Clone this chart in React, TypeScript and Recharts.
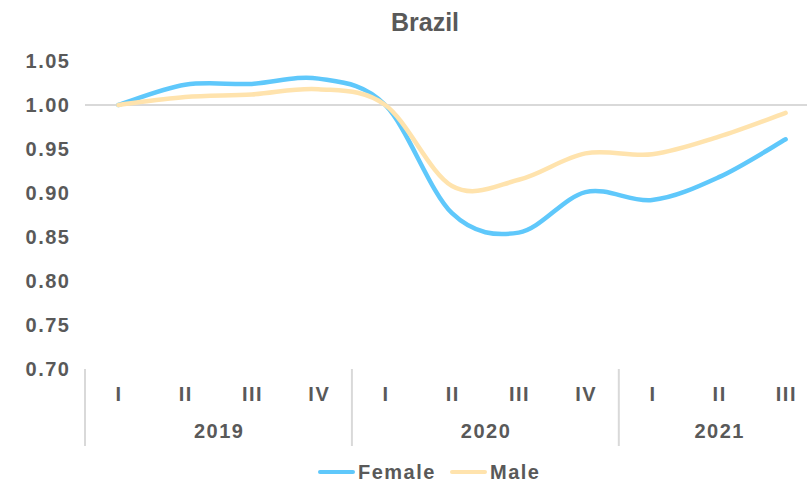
import React from "react";
import {
  LineChart,
  Line,
  XAxis,
  YAxis,
  ReferenceLine,
  Legend,
} from "recharts";

const quarters = ["I", "II", "III", "IV", "I", "II", "III", "IV", "I", "II", "III"];
const years = ["2019", "2020", "2021"];
const quartersPerYear = [4, 4, 3];
const female = [1.0, 1.023, 1.024, 1.03, 1.0, 0.877, 0.855, 0.901, 0.892, 0.918, 0.961];
const male = [1.0, 1.009, 1.012, 1.018, 1.0, 0.908, 0.915, 0.945, 0.944, 0.964, 0.991];
const yTicks = [0.7, 0.75, 0.8, 0.85, 0.9, 0.95, 1.0, 1.05];

const data = quarters.map((q, i) => ({ q, female: female[i], male: male[i] }));

const CHART_W = 830;
const CHART_H = 485;
const MARGIN = { top: 61, right: 11, left: 0, bottom: 0 };
const Y_W = 85;
const X_H = 77;
const BAND = (CHART_W - MARGIN.left - MARGIN.right - Y_W) / quarters.length;

const TEXT = "#595959";
const GRID = "#d9d9d9";
const BLUE = "#5fc8fb";
const YELLOW = "#ffe3ad";
const FONT = "'Liberation Sans', Arial, sans-serif";
const FS = 20;
const LS = 1.5;

// index of the first quarter of each year
const yearStarts = quartersPerYear.map((_, i) =>
  quartersPerYear.slice(0, i).reduce((a, b) => a + b, 0)
);

// Excel-style smoothing (Catmull-Rom like bezier)
function smoothCurve(context: any) {
  let pts: number[][] = [];
  return {
    areaStart() {},
    areaEnd() {},
    lineStart() {
      pts = [];
    },
    lineEnd() {
      const n = pts.length;
      if (!n) return;
      context.moveTo(pts[0][0], pts[0][1]);
      for (let i = 0; i < n - 1; i++) {
        const p0 = pts[Math.max(i - 1, 0)];
        const p1 = pts[i];
        const p2 = pts[i + 1];
        const p3 = pts[Math.min(i + 2, n - 1)];
        context.bezierCurveTo(
          p1[0] + (p2[0] - p0[0]) / 6,
          p1[1] + (p2[1] - p0[1]) / 6,
          p2[0] - (p3[0] - p1[0]) / 6,
          p2[1] - (p3[1] - p1[1]) / 6,
          p2[0],
          p2[1]
        );
      }
    },
    point(x: number, y: number) {
      pts.push([+x, +y]);
    },
  };
}

const labelStyle = {
  fill: TEXT,
  fontSize: FS,
  fontWeight: 700,
  fontFamily: FONT,
  letterSpacing: LS,
};

function QuarterTick(props: any) {
  const { x, y, payload } = props;
  const i = payload.index;
  const yi = yearStarts.indexOf(i);
  const parts: React.ReactNode[] = [];
  parts.push(
    <text key="q" x={x + LS / 2} y={y + 32} textAnchor="middle" {...labelStyle}>
      {payload.value}
    </text>
  );
  if (yi >= 0) {
    parts.push(
      <line key="s" x1={x - BAND / 2} x2={x - BAND / 2} y1={y} y2={y + X_H} stroke={GRID} strokeWidth={2} />
    );
    const mid = (quartersPerYear[yi] - 1) / 2;
    parts.push(
      <text key="y" x={x + mid * BAND + LS / 2} y={y + 69} textAnchor="middle" {...labelStyle}>
        {years[yi]}
      </text>
    );
  }
  if (i === quarters.length - 1) {
    parts.push(
      <line key="e" x1={x + BAND / 2} x2={x + BAND / 2} y1={y} y2={y + X_H} stroke={GRID} strokeWidth={2} />
    );
  }
  return <g>{parts}</g>;
}

function ValueTick(props: any) {
  const { x, y, payload } = props;
  return (
    <text x={x + LS} y={y + 7} textAnchor="end" {...labelStyle}>
      {Number(payload.value).toFixed(2)}
    </text>
  );
}

function LegendContent() {
  const item = (left: number, color: string, label: string) => (
    <React.Fragment key={label}>
      <span
        style={{
          position: "absolute",
          left,
          top: 24,
          width: 37,
          height: 4,
          borderRadius: 2,
          background: color,
        }}
      />
      <span
        style={{
          position: "absolute",
          left: left + 40,
          top: 16,
          lineHeight: "20px",
          fontSize: FS,
          fontWeight: 700,
          letterSpacing: LS,
          color: TEXT,
          fontFamily: FONT,
          whiteSpace: "nowrap",
        }}
      >
        {label}
      </span>
    </React.Fragment>
  );
  return (
    <div style={{ position: "relative", width: CHART_W, height: 39 }}>
      {item(318, BLUE, "Female")}
      {item(450, YELLOW, "Male")}
    </div>
  );
}

export default function App() {
  return (
    <div
      style={{
        position: "fixed",
        left: 0,
        top: 0,
        width: 807,
        height: 485,
        overflow: "hidden",
        background: "#fff",
        fontFamily: FONT,
      }}
    >
      <div
        style={{
          position: "absolute",
          left: 0,
          top: 10,
          width: 850,
          textAlign: "center",
          fontSize: 25,
          lineHeight: "25px",
          fontWeight: 700,
          color: TEXT,
        }}
      >
        Brazil
      </div>
      <LineChart width={CHART_W} height={CHART_H} data={data} margin={MARGIN}>
        <XAxis
          dataKey="q"
          height={X_H}
          interval={0}
          axisLine={false}
          tickLine={false}
          tickSize={0}
          tickMargin={0}
          padding={{ left: BAND / 2, right: BAND / 2 }}
          tick={<QuarterTick />}
        />
        <YAxis
          width={Y_W}
          domain={[0.7, 1.05]}
          ticks={yTicks}
          axisLine={false}
          tickLine={false}
          tickSize={0}
          tickMargin={16}
          tick={<ValueTick />}
        />
        <ReferenceLine y={1} stroke={GRID} strokeWidth={2} />
        <Legend verticalAlign="bottom" content={<LegendContent />} wrapperStyle={{ left: 0, width: CHART_W }} />
        <Line
          dataKey="female"
          type={smoothCurve as any}
          stroke={BLUE}
          strokeWidth={4.5}
          strokeLinecap="round"
          dot={false}
          activeDot={false}
          isAnimationActive={false}
        />
        <Line
          dataKey="male"
          type={smoothCurve as any}
          stroke={YELLOW}
          strokeWidth={4.5}
          strokeLinecap="round"
          dot={false}
          activeDot={false}
          isAnimationActive={false}
        />
      </LineChart>
    </div>
  );
}
